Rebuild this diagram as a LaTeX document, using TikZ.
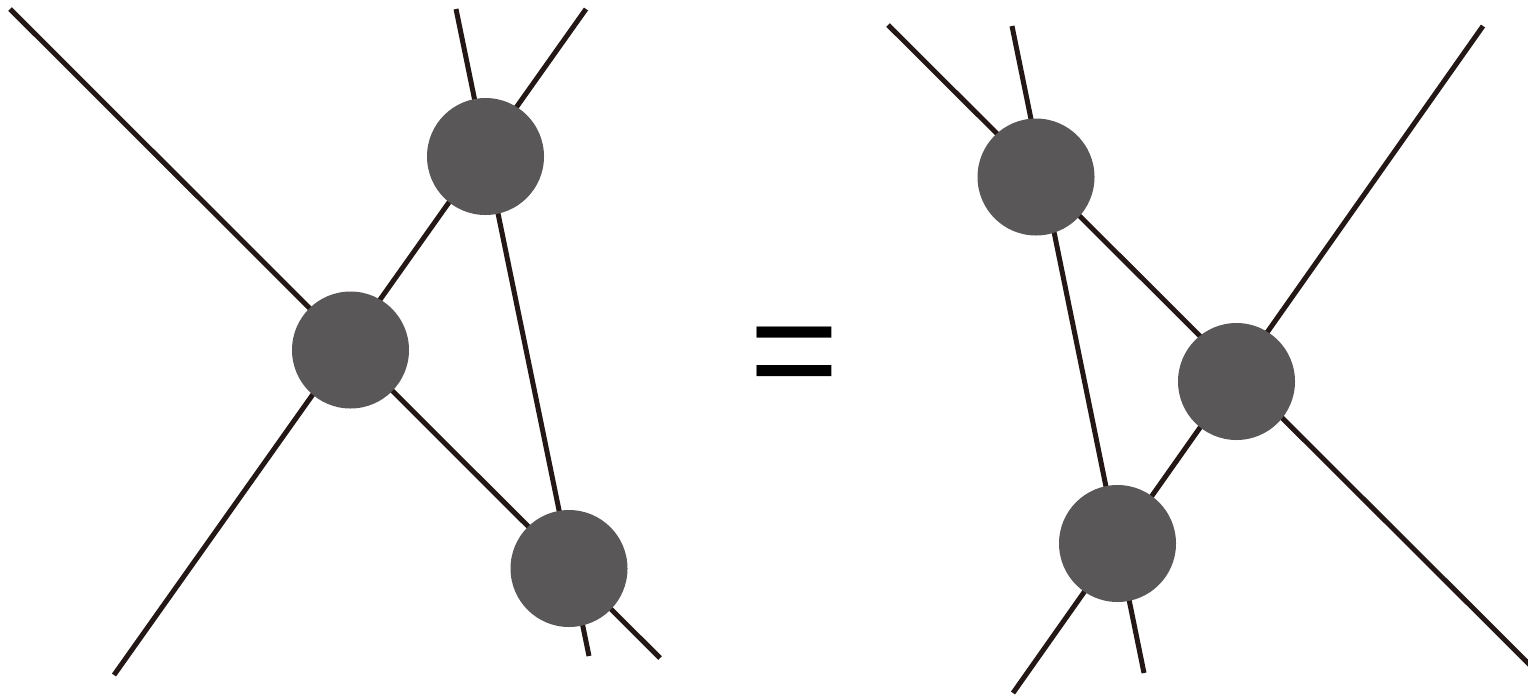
\documentclass[tikz,border=0pt]{standalone}
\usepackage{fontspec}
\setmainfont{Liberation Sans}
\definecolor{strand}{HTML}{231815}
\definecolor{vertex}{HTML}{595757}
\begin{document}
\begin{tikzpicture}[x=1pt,y=-1pt,
  strandline/.style={draw=strand,line width=5pt},
  vertexdot/.style={circle,fill=vertex,minimum size=117pt,inner sep=0pt}]
\useasboundingbox (0,0) rectangle (1528,697);
\clip (0,0) rectangle (1528,697);

% free ends of the strands, left-hand side
\coordinate (la1) at (10,9);    \coordinate (lb1) at (660,658);
\coordinate (la2) at (586,9);   \coordinate (lb2) at (114,675);
\coordinate (la3) at (456,9);   \coordinate (lb3) at (589,656);
% free ends of the strands, right-hand side
\coordinate (ra1) at (888,25);  \coordinate (rb1) at (1540,675);
\coordinate (ra2) at (1483,26); \coordinate (rb2) at (1013,693);
\coordinate (ra3) at (1012,26); \coordinate (rb3) at (1144,673);

% strands
\draw[strandline] (la1) -- (lb1);
\draw[strandline] (la2) -- (lb2);
\draw[strandline] (la3) -- (lb3);
\draw[strandline] (ra1) -- (rb1);
\draw[strandline] (ra2) -- (rb2);
\draw[strandline] (ra3) -- (rb3);

% vertices
\node[vertexdot] (L1) at (485.5,156.5) {};
\node[vertexdot] (L2) at (350.5,350) {};
\node[vertexdot] (L3) at (569,568.5) {};
\node[vertexdot] (R1) at (1036,177) {};
\node[vertexdot] (R2) at (1236.5,381.5) {};
\node[vertexdot] (R3) at (1117.5,543.5) {};

% equals sign
\node[anchor=base west, inner sep=0pt, font=\fontsize{154}{154}\selectfont] (eq) at (749,402) {=};
\end{tikzpicture}
\end{document}
